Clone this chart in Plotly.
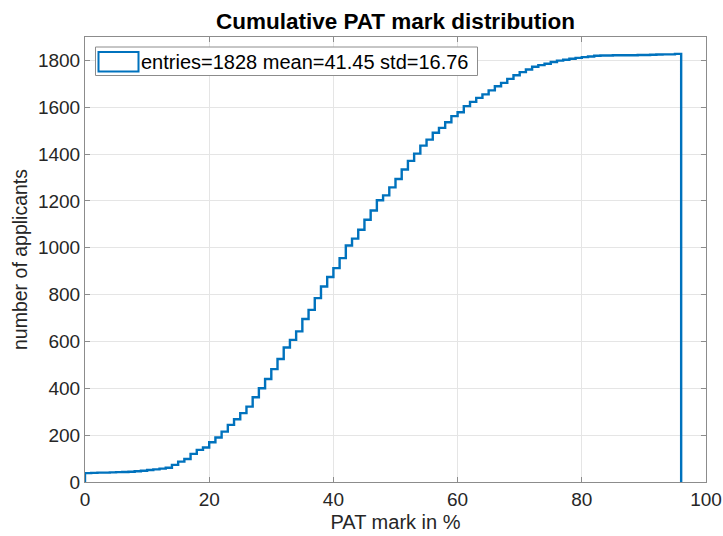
import plotly.graph_objects as go

# bin edges (PAT mark in %), bins of width 1 from 0 to 96
bin_left = list(range(0, 96))
# cumulative number of applicants at each bin
cumulative = [
    38, 39, 40, 40, 41, 42, 43, 44, 46, 48,          # 0-9
    51, 54, 57, 61, 73, 87, 98, 120, 137, 147,       # 10-19
    170, 190, 215, 244, 268, 294, 322, 362, 400, 440,  # 20-29
    482, 525, 574, 607, 643, 696, 735, 785, 835, 875,  # 30-39
    913, 956, 1010, 1039, 1077, 1120, 1159, 1203, 1224, 1258,  # 40-49
    1294, 1334, 1371, 1402, 1436, 1462, 1491, 1512, 1536, 1562,  # 50-59
    1579, 1605, 1623, 1640, 1655, 1672, 1690, 1704, 1721, 1737,  # 60-69
    1750, 1761, 1773, 1780, 1786, 1793, 1799, 1803, 1807, 1811,  # 70-79
    1814, 1817, 1820, 1821, 1821, 1822, 1822, 1822, 1822, 1823,  # 80-89
    1823, 1824, 1825, 1826, 1826, 1828,                          # 90-95
]
last_edge = 96
legend_label = "entries=1828 mean=41.45 std=16.76"
title_text = "Cumulative PAT mark distribution"
x_title = "PAT mark in %"
y_title = "number of applicants"
x_ticks = [0, 20, 40, 60, 80, 100]
y_ticks = list(range(0, 1801, 200))

# stairs outline like MATLAB histogram 'stairs' display style
xs = [bin_left[0]] + bin_left + [last_edge, last_edge]
ys = [0] + cumulative + [cumulative[-1], 0]

blue = "#0072BD"
font_family = "Liberation Sans, Arial, sans-serif"
text_color = "#262626"

fig = go.Figure()
fig.add_trace(go.Scatter(x=xs, y=ys, mode="lines", line=dict(color=blue, width=2.4, shape="hv"),
                         showlegend=False, hoverinfo="skip"))

W, H = 723, 536
L, R, T, B = 85, 17, 37, 54
pw, ph = W - L - R, H - T - B

def px2paper(px, py):
    return (px - L) / pw, (H - B - py) / ph

axis_common = dict(
    showline=True, linecolor="#8c8c8c", linewidth=1, mirror="ticks",
    ticks="inside", ticklen=5, tickcolor="#8c8c8c",
    showgrid=True, gridcolor="#e5e5e5", gridwidth=1, zeroline=False,
    automargin=False,
    tickfont=dict(family=font_family, size=19, color=text_color),
)

fig.update_layout(
    width=W, height=H, margin=dict(l=L, r=R, t=T, b=B, autoexpand=False),
    paper_bgcolor="white", plot_bgcolor="white",
    title=dict(text="<b>" + title_text + "</b>", x=0.5, xref="paper", y=1 - 21 / H, yref="container",
               xanchor="center", yanchor="middle", font=dict(family=font_family, size=22.5, color="black")),
    xaxis=dict(range=[0, 100], tickvals=x_ticks, **axis_common,
               title=dict(text=x_title, standoff=6, font=dict(family=font_family, size=20, color=text_color))),
    yaxis=dict(range=[0, 1900], tickvals=y_ticks, **axis_common,
               title=dict(text=y_title, standoff=5, font=dict(family=font_family, size=19.5, color=text_color))),
)

# legend drawn as shapes/annotation to mimic MATLAB's patch-style legend
bx0, by1 = px2paper(95.5, 47)
bx1, by0 = px2paper(477.5, 75.5)
sx0, sy1 = px2paper(98.5, 52)
sx1, sy0 = px2paper(138.5, 71.5)
tx, ty = px2paper(139, 62)
fig.add_shape(type="rect", xref="paper", yref="paper", x0=bx0, x1=bx1, y0=by0, y1=by1,
              line=dict(color="#8c8c8c", width=1), fillcolor="white", layer="above")
fig.add_shape(type="rect", xref="paper", yref="paper", x0=sx0, x1=sx1, y0=sy0, y1=sy1,
              line=dict(color=blue, width=2), fillcolor="rgba(0,0,0,0)", layer="above")
fig.add_annotation(text=legend_label, xref="paper", yref="paper", x=tx, y=ty, xanchor="left", yanchor="middle",
                   showarrow=False, font=dict(family=font_family, size=20, color="black"))

fig.write_html("out.html", config={"displayModeBar": False},
               post_script="document.body.style.margin='0';")
